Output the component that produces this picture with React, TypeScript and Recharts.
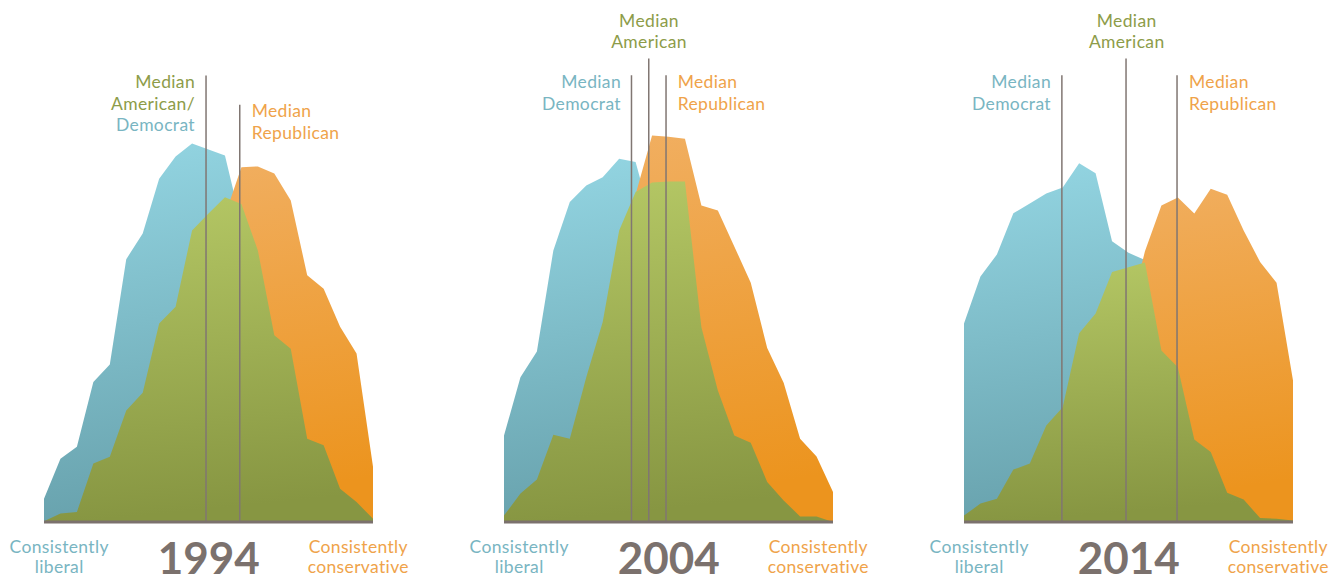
import React from "react";
import { AreaChart, Area, XAxis, YAxis, ReferenceLine } from "recharts";

// ideological consistency scale, -10 (consistently liberal) .. +10 (consistently conservative)
const scalePoints = [-10, -9, -8, -7, -6, -5, -4, -3, -2, -1, 0, 1, 2, 3, 4, 5, 6, 7, 8, 9, 10];

// share of each group at each scale point (%)
const dem1994 = [0.58, 1.58, 1.88, 3.5, 3.94, 6.57, 7.21, 8.58, 9.14, 9.46, 9.31, 9.16, 7.45, 5.29, 3.2, 1.95, 0.88, 0.38, 0.17, 0.06, 0.02];
const rep1994 = [0.01, 0.08, 0.2, 0.45, 0.8, 1.38, 2.2, 3.2, 4.45, 5.7, 6.75, 7.66, 8.87, 8.89, 8.71, 8.04, 6.17, 5.83, 4.88, 4.21, 1.38];
const all1994 = [0.02, 0.21, 0.25, 1.46, 1.63, 2.79, 3.23, 4.96, 5.38, 7.29, 7.71, 8.12, 7.95, 6.79, 4.67, 4.33, 2.08, 1.92, 0.83, 0.5, 0.08];

const dem2004 = [2.16, 3.62, 4.26, 6.79, 8.0, 8.41, 8.62, 9.08, 9.0, 7.5, 5.75, 4.0, 2.5, 1.5, 0.88, 0.45, 0.2, 0.08, 0.03, 0.01, 0];
const rep2004 = [0.13, 0.3, 0.63, 1.13, 1.88, 2.88, 4.25, 6.0, 8.19, 9.66, 9.63, 9.58, 7.91, 7.79, 6.89, 5.98, 4.35, 3.48, 2.08, 1.64, 0.75];
const all2004 = [0.16, 0.71, 1.06, 2.18, 2.08, 3.62, 5.0, 7.29, 8.25, 8.49, 8.51, 8.51, 4.87, 3.29, 2.16, 1.98, 1.0, 0.54, 0.14, 0.14, 0];

const dem2014 = [4.96, 6.14, 6.69, 7.72, 7.96, 8.21, 8.36, 8.97, 8.72, 7.02, 6.73, 6.55, 5.0, 3.5, 2.25, 1.38, 0.75, 0.38, 0.18, 0.08, 0.03];
const rep2014 = [0.05, 0.1, 0.2, 0.38, 0.63, 0.95, 1.38, 2.0, 2.75, 3.75, 5.1, 6.77, 7.91, 8.11, 7.71, 8.33, 8.18, 7.29, 6.5, 5.98, 3.54];
const all2014 = [0.16, 0.46, 0.58, 1.31, 1.46, 2.41, 2.87, 4.72, 5.21, 6.25, 6.37, 6.49, 4.29, 3.87, 2.06, 1.75, 0.73, 0.56, 0.1, 0.08, 0.04];

// median positions on the scale, and how high the marker line reaches
const medians1994 = [
  { x: -0.15, top: 11.16 },
  { x: 1.9, top: 10.43 },
];
const medians2004 = [
  { x: -2.25, top: 11.17 },
  { x: -1.2, top: 11.59 },
  { x: -0.15, top: 11.17 },
];
const medians2014 = [
  { x: -4.05, top: 11.17 },
  { x: -0.15, top: 11.59 },
  { x: 2.95, top: 11.17 },
];

const years = ["1994", "2004", "2014"];
const leftLabel = ["Consistently", "liberal"];
const rightLabel = ["Consistently", "conservative"];

const BLUE_TXT = "#79b5c2";
const GREEN_TXT = "#8d9c49";
const ORANGE_TXT = "#efa34a";
const GREY = "#7b716d";
const FONT = "Lato, 'Noto Sans', sans-serif";

const PANEL_W = 329;
const PLOT_H = 480;

function buildRows(dem: number[], rep: number[], all: number[]) {
  return scalePoints.map((x, i) => ({ x, dem: dem[i], rep: rep[i], all: all[i] }));
}

function Panel({
  id,
  left,
  dem,
  rep,
  all,
  medians,
}: {
  id: string;
  left: number;
  dem: number[];
  rep: number[];
  all: number[];
  medians: Array<{ x: number; top: number }>;
}) {
  const rows = buildRows(dem, rep, all);
  return (
    <div style={{ position: "absolute", left, top: 41.5 }}>
      <AreaChart width={PANEL_W} height={PLOT_H + 4} data={rows} margin={{ top: 0, right: 0, bottom: 4, left: 0 }}>
        <defs>
          <linearGradient id={`dem-${id}`} x1="0" y1="0" x2="0.15" y2="1">
            <stop offset="0%" stopColor="#94d6e3" />
            <stop offset="100%" stopColor="#68a2ad" />
          </linearGradient>
          <linearGradient id={`rep-${id}`} x1="0" y1="0" x2="0.15" y2="1">
            <stop offset="0%" stopColor="#f1b064" />
            <stop offset="100%" stopColor="#ec941e" />
          </linearGradient>
          <linearGradient id={`all-${id}`} x1="0" y1="0" x2="0.1" y2="1">
            <stop offset="0%" stopColor="#b5c865" />
            <stop offset="100%" stopColor="#879642" />
          </linearGradient>
        </defs>
        <XAxis dataKey="x" type="number" domain={[-10, 10]} hide />
        <YAxis domain={[0, 12]} hide />
        <Area type="linear" dataKey="dem" stroke="none" fill={`url(#dem-${id})`} fillOpacity={1} isAnimationActive={false} dot={false} activeDot={false} />
        <Area type="linear" dataKey="rep" stroke="none" fill={`url(#rep-${id})`} fillOpacity={1} isAnimationActive={false} dot={false} activeDot={false} />
        <Area type="linear" dataKey="all" stroke="none" fill={`url(#all-${id})`} fillOpacity={1} isAnimationActive={false} dot={false} activeDot={false} />
        {medians.map((m, i) => (
          <ReferenceLine
            key={i}
            segment={[
              { x: m.x, y: 0 },
              { x: m.x, y: m.top },
            ]}
            stroke="#807672"
            strokeWidth={1.5}
          />
        ))}
        <ReferenceLine y={0} stroke={GREY} strokeWidth={3} />
      </AreaChart>
    </div>
  );
}

function Lines({ x, ys, anchor, lines }: { x: number; ys: number[]; anchor: "start" | "middle" | "end"; lines: Array<[string, string]> }) {
  return (
    <>
      {lines.map(([t, c], i) => (
        <text key={i} x={x} y={ys[i]} textAnchor={anchor} fill={c}>
          {t}
        </text>
      ))}
    </>
  );
}

export default function App() {
  const offsets = [0, 460, 920];
  return (
    <div style={{ position: "absolute", left: 0, top: 0, width: 1340, height: 577, background: "#fff", overflow: "hidden" }}>
      <Panel id="1994" left={44.3} dem={dem1994} rep={rep1994} all={all1994} medians={medians1994} />
      <Panel id="2004" left={504.3} dem={dem2004} rep={rep2004} all={all2004} medians={medians2004} />
      <Panel id="2014" left={964.3} dem={dem2014} rep={rep2014} all={all2014} medians={medians2014} />
      <svg
        width={1340}
        height={577}
        style={{ position: "absolute", left: 0, top: 0, pointerEvents: "none", letterSpacing: "0.35px" }}
        fontFamily={FONT}
        fontSize={17.5}
      >
        {/* 1994 */}
        <Lines x={195} ys={[88.3, 109.8, 131.3]} anchor="end" lines={[["Median", GREEN_TXT], ["American/", GREEN_TXT], ["Democrat", BLUE_TXT]]} />
        <Lines x={251.7} ys={[117.3, 138.8]} anchor="start" lines={[["Median", ORANGE_TXT], ["Republican", ORANGE_TXT]]} />
        {/* 2004 */}
        <Lines x={649} ys={[26.5, 48]} anchor="middle" lines={[["Median", GREEN_TXT], ["American", GREEN_TXT]]} />
        <Lines x={621} ys={[88.3, 109.8]} anchor="end" lines={[["Median", BLUE_TXT], ["Democrat", BLUE_TXT]]} />
        <Lines x={677.7} ys={[88.3, 109.8]} anchor="start" lines={[["Median", ORANGE_TXT], ["Republican", ORANGE_TXT]]} />
        {/* 2014 */}
        <Lines x={1126.7} ys={[26.5, 48]} anchor="middle" lines={[["Median", GREEN_TXT], ["American", GREEN_TXT]]} />
        <Lines x={1051} ys={[88.3, 109.8]} anchor="end" lines={[["Median", BLUE_TXT], ["Democrat", BLUE_TXT]]} />
        <Lines x={1189} ys={[88.3, 109.8]} anchor="start" lines={[["Median", ORANGE_TXT], ["Republican", ORANGE_TXT]]} />
        {offsets.map((o, i) => (
          <g key={i}>
            <Lines x={o + 59.2} ys={[552.7, 573.3]} anchor="middle" lines={[[leftLabel[0], BLUE_TXT], [leftLabel[1], BLUE_TXT]]} />
            <Lines x={o + 358.3} ys={[552.7, 573.3]} anchor="middle" lines={[[rightLabel[0], ORANGE_TXT], [rightLabel[1], ORANGE_TXT]]} />
            <text x={o + 208.8} y={574} textAnchor="middle" fill={GREY} fontSize={44} fontWeight={700} letterSpacing="0px">
              {years[i]}
            </text>
          </g>
        ))}
      </svg>
    </div>
  );
}
